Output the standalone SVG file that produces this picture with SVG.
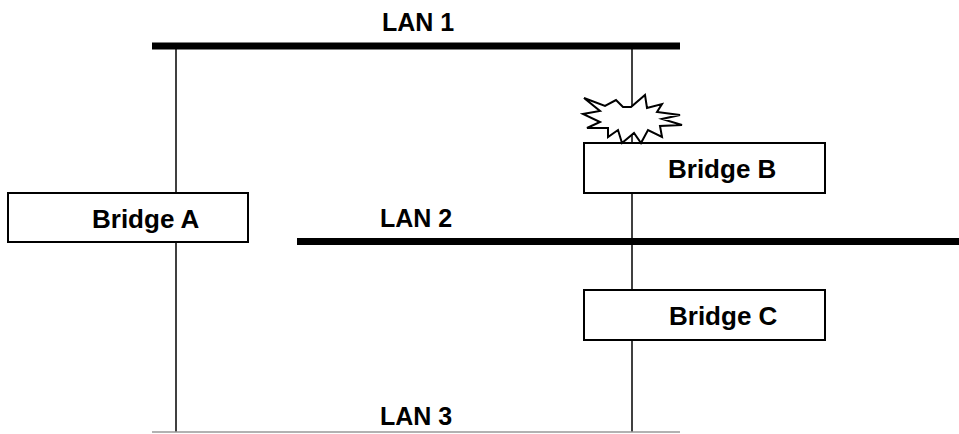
<svg xmlns="http://www.w3.org/2000/svg" width="959" height="434" viewBox="0 0 959 434">
<style>
.lan{stroke:#000;stroke-width:7;fill:none}
.lan3{stroke:#999;stroke-width:1.5;fill:none}
.drop{stroke:#000;stroke-width:1.5;fill:none}
.box{fill:#fff;stroke:#000;stroke-width:2}
.lbl{font-family:"Liberation Sans",Arial,sans-serif;font-weight:bold;font-size:25px;fill:#000}
.blbl{font-family:"Liberation Sans",Arial,sans-serif;font-weight:bold;font-size:26px;fill:#000}
.burst{fill:#fff;stroke:#000;stroke-width:2;stroke-linejoin:miter}
</style>
<rect width="959" height="434" fill="#fff"/>
<g id="connectors">
<line class="drop" x1="176" y1="46" x2="176" y2="432"/>
<line class="drop" x1="632" y1="46" x2="632" y2="432"/>
</g>
<g id="lan1">
<line class="lan" x1="152" y1="46" x2="680" y2="46"/>
<text class="lbl" x="382" y="31">LAN 1</text>
</g>
<g id="lan2">
<line class="lan" x1="297" y1="241.5" x2="959" y2="241.5"/>
<text class="lbl" x="380" y="227">LAN 2</text>
</g>
<g id="lan3">
<line class="lan3" x1="152" y1="432" x2="680" y2="432"/>
<text class="lbl" x="380" y="425">LAN 3</text>
</g>
<g id="bridgeA">
<rect class="box" x="8" y="193" width="240" height="49"/>
<text class="blbl" x="92" y="228">Bridge A</text>
</g>
<g id="bridgeB">
<rect class="box" x="584" y="143" width="241" height="50"/>
<text class="blbl" x="668" y="178">Bridge B</text>
</g>
<g id="bridgeC">
<rect class="box" x="584" y="290" width="241" height="50"/>
<text class="blbl" x="669" y="325">Bridge C</text>
</g>
<g id="fault">
<polygon class="burst" points="584,98 605,106 616,100 623,107 631,107 645,95 647,108 662,104 657,112 680,115 662,119 682,125 660,126 662,137 648,130 641,143 634,133 622,143 618,130 608,137 608,128 587,128 600,122 583,114 600,111"/>
</g>
</svg>
